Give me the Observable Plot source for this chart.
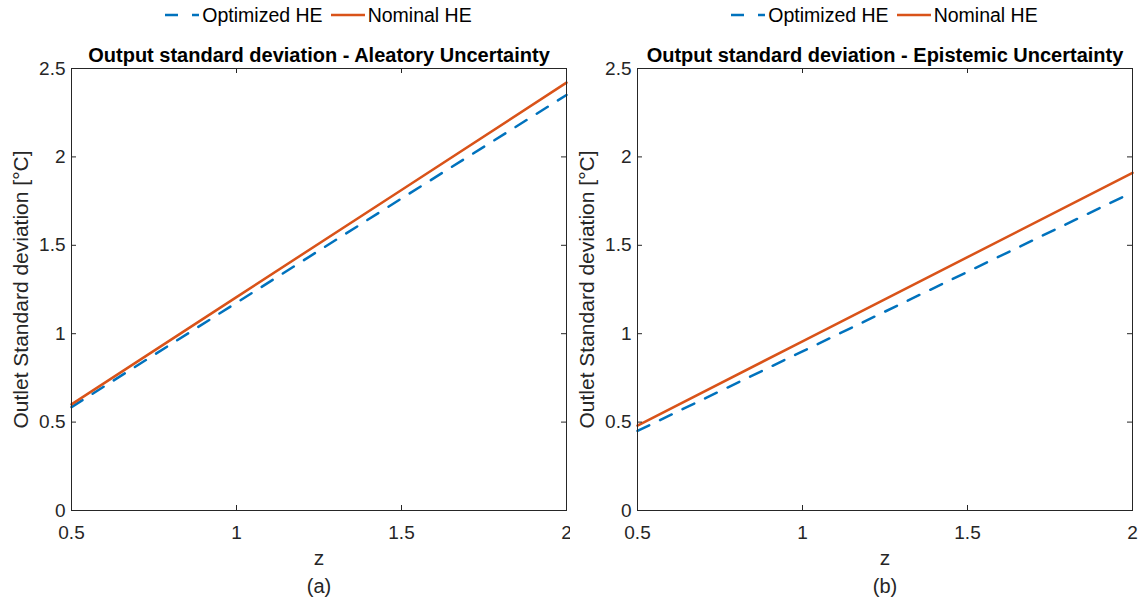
<!DOCTYPE html>
<html><head><meta charset="utf-8">
<script src="https://cdn.jsdelivr.net/npm/d3@7"></script>
<script src="https://cdn.jsdelivr.net/npm/@observablehq/plot@0.6"></script>
<style>
body{margin:0;background:#fff;font-family:"Liberation Sans",Arial,sans-serif;}
#root{position:relative;width:1141px;height:603px;overflow:hidden;background:#fff}
.panel{position:absolute;top:0}
.legend{height:30px;display:flex;align-items:center;justify-content:center;font-size:19.5px;color:#000;box-sizing:border-box}
.legend svg{display:block}
.item{display:flex;align-items:center}
.panel > svg{display:block}
</style></head><body><div id="root"></div>
<script>
const zValues = [0.5, 1.0, 1.5, 2.0];
const aleatoryOptimized = [0.585, 1.175, 1.765, 2.35];
const aleatoryNominal = [0.60, 1.207, 1.813, 2.42];
const epistemicOptimized = [0.45, 0.90, 1.35, 1.80];
const epistemicNominal = [0.48, 0.957, 1.433, 1.91];
const seriesNames = ["Optimized HE", "Nominal HE"];
const seriesColors = ["#0072BD", "#D95319"];
const panelTitles = ["Output standard deviation - Aleatory Uncertainty", "Output standard deviation - Epistemic Uncertainty"];
const panelTags = ["(a)", "(b)"];
const xTicks = [0.5, 1, 1.5, 2];
const yTicks = [0, 0.5, 1, 1.5, 2, 2.5];
const xLabel = "z";
const yLabel = "Outlet Standard deviation [°C]";

const panels = [
  {left: 0, width: 570, ml: 71, mr: 4, opt: aleatoryOptimized, nom: aleatoryNominal},
  {left: 570, width: 571, ml: 67, mr: 9, opt: epistemicOptimized, nom: epistemicNominal}
];
const legendH = 30, svgH = 573, mt = 38, mb = 93;
const dash = "13,12";

const root = document.getElementById("root");
panels.forEach((p, i) => {
  const div = document.createElement("div");
  div.className = "panel";
  div.style.left = p.left + "px";
  div.style.width = p.width + "px";

  const leg = document.createElement("div");
  leg.className = "legend";
  leg.style.paddingLeft = p.ml + "px";
  leg.style.paddingRight = p.mr + "px";
  seriesNames.forEach((name, k) => {
    const item = document.createElement("span");
    item.className = "item";
    if (k > 0) item.style.marginLeft = "8px";
    const ns = "http://www.w3.org/2000/svg";
    const sw = document.createElementNS(ns, "svg");
    sw.setAttribute("width", 34); sw.setAttribute("height", 12);
    const ln = document.createElementNS(ns, "line");
    ln.setAttribute("x1", 0); ln.setAttribute("x2", 34);
    ln.setAttribute("y1", 6); ln.setAttribute("y2", 6);
    ln.setAttribute("stroke", seriesColors[k]);
    ln.setAttribute("stroke-width", 2.5);
    if (k === 0) ln.setAttribute("stroke-dasharray", "13,14");
    sw.appendChild(ln);
    item.appendChild(sw);
    const t = document.createElement("span");
    t.textContent = name;
    t.style.marginLeft = "3px";
    item.appendChild(t);
    leg.appendChild(item);
  });
  div.appendChild(leg);

  const rows = zValues.map((z, j) => ({z, v: p.opt[j], s: seriesNames[0]}));
  const rowsNom = zValues.map((z, j) => ({z, v: p.nom[j], s: seriesNames[1]}));
  const plotH = svgH - mt - mb, plotW = p.width - p.ml - p.mr;

  const chart = Plot.plot({
    width: p.width, height: svgH,
    marginLeft: p.ml, marginRight: p.mr, marginTop: mt, marginBottom: mb,
    style: {fontFamily: "'Liberation Sans', Arial, sans-serif", fontSize: "19px", color: "#262626", background: "white", overflow: "visible"},
    x: {domain: [0.5, 2], axis: null},
    y: {domain: [0, 2.5], axis: null},
    marks: [
      Plot.line(rows, {x: "z", y: "v", stroke: seriesColors[0], strokeWidth: 2.5, strokeDasharray: dash}),
      Plot.line(rowsNom, {x: "z", y: "v", stroke: seriesColors[1], strokeWidth: 2.5}),
      Plot.tickX(xTicks, {x: d => d, insetBottom: plotH - 5, stroke: "#262626"}),
      Plot.tickX(xTicks, {x: d => d, insetTop: plotH - 5, stroke: "#262626"}),
      Plot.tickY(yTicks, {y: d => d, insetRight: plotW - 5, stroke: "#262626"}),
      Plot.tickY(yTicks, {y: d => d, insetLeft: plotW - 5, stroke: "#262626"}),
      Plot.frame({stroke: "#262626", strokeWidth: 1}),
      Plot.axisX(xTicks, {tickSize: 0, tickPadding: 15, fontSize: 19, label: null, tickFormat: d => String(d)}),
      Plot.axisY(yTicks, {tickSize: 0, tickPadding: 6, fontSize: 19, label: null, tickFormat: d => String(d)}),
      Plot.text([panelTitles[i]], {text: d => d, frameAnchor: "top", dy: -13, lineAnchor: "middle", fontWeight: "bold", fontSize: 20, fill: "#000"}),
      Plot.text([xLabel], {text: d => d, frameAnchor: "bottom", dy: 48, lineAnchor: "middle", fontSize: 21, fill: "#262626"}),
      Plot.text([panelTags[i]], {text: d => d, frameAnchor: "bottom", dy: 76, lineAnchor: "middle", fontSize: 20, fill: "#262626"}),
      Plot.text([yLabel], {text: d => d, frameAnchor: "left", dx: -50, rotate: -90, textAnchor: "middle", lineAnchor: "middle", fontSize: 21, fill: "#262626"})
    ]
  });
  div.appendChild(chart);
  root.appendChild(div);
});
</script></body></html>
